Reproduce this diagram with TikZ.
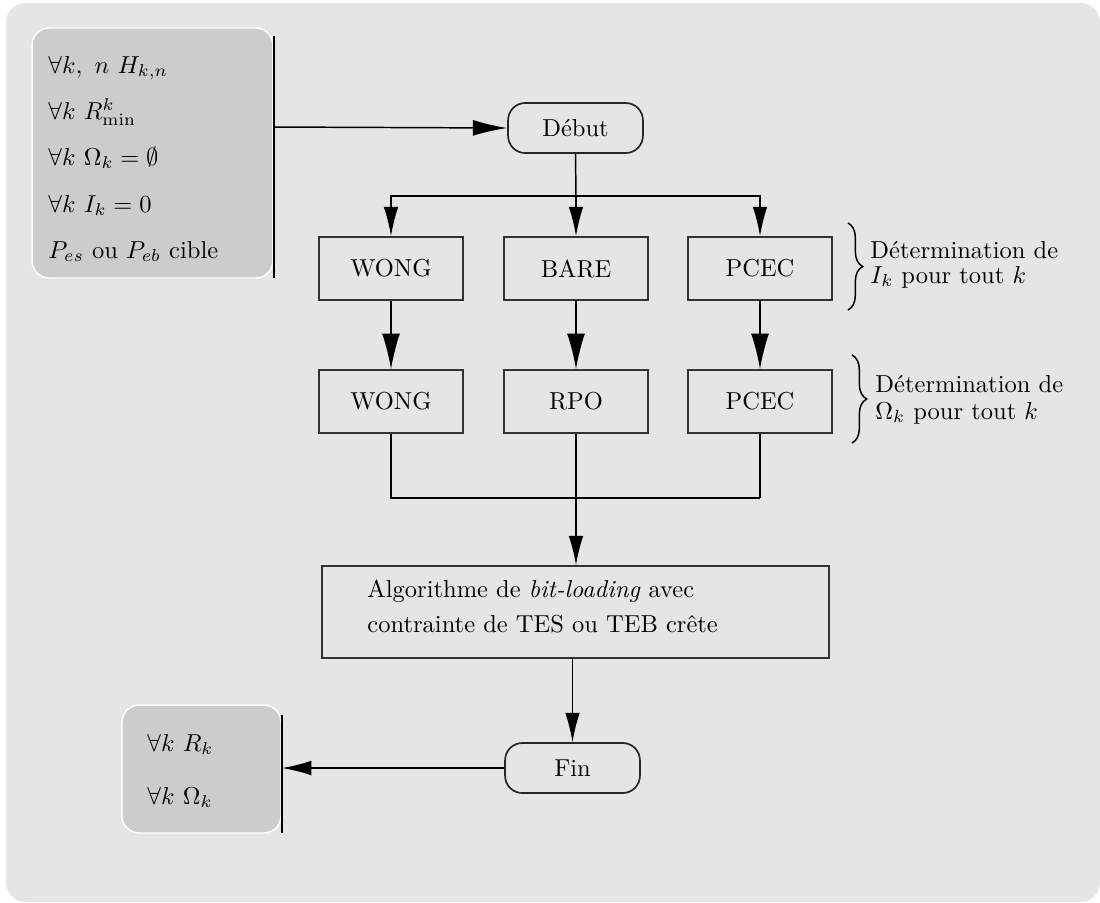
\documentclass[tikz,border=0pt]{standalone}
\usetikzlibrary{arrows.meta,decorations.pathreplacing}
\begin{document}
\begin{tikzpicture}[x=0.408pt,y=-0.408pt,
  box/.style={draw=black!80,line width=0.7pt,minimum width=58.8pt,minimum height=25.7pt,inner sep=0pt},
  term/.style={draw=black!85,line width=0.7pt,rounded corners=7pt,minimum width=55pt,minimum height=20.4pt,inner sep=0pt},
  panel/.style={fill=black!20,draw=white,line width=0.6pt,rounded corners=7pt,inner sep=0pt},
  conn/.style={line width=0.6pt},
  arr/.style={conn,-{Latex[length=12pt,width=6pt]}},
  bigarr/.style={conn,-{Latex[length=14.5pt,width=7.3pt]}},
  txt/.style={anchor=base west,inner sep=0pt},
  brc/.style={decorate,decoration={brace,amplitude=6pt},line width=0.6pt}]
\useasboundingbox (0,0) rectangle (1100,902);
\fill[white] (0,0) rectangle (1100,902);
\fill[black!10,rounded corners=8pt] (6,3) rectangle (1100,902);

% input panel
\node[panel,minimum width=98.3pt,minimum height=102pt] (in) at (152.5,153) {};
\draw[conn] (274,36) coordinate (inT) -- (274,278) coordinate (inB);
\coordinate (inO) at (274,127);
\node[txt] (i1) at (48,73) {$\forall k,\ n\ H_{k,n}$};
\node[txt] (i2) at (48,119) {$\forall k\ R_{\min}^{k}$};
\node[txt] (i3) at (48,165) {$\forall k\ \Omega_k=\emptyset$};
\node[txt] (i4) at (48,212) {$\forall k\ I_k=0$};
\node[txt] (i5) at (48,258) {$P_{es}$ ou $P_{eb}$ cible};

% start
\node[term] (debut) at (575.5,128) {Début};
\draw[conn,-{Latex[length=14pt,width=6.5pt]}] (inO) -- (debut.west);

% row 1
\node[box] (w1) at (391,268.5) {WONG};
\node[box] (b1) at (576,268.5) {BARE};
\node[box] (p1) at (760,268.5) {PCEC};
\coordinate (split) at (576,196);
\draw[conn] (debut.south) -- (split);
\draw[arr] (split) -| (w1.north);
\draw[arr] (split) -- (b1.north);
\draw[arr] (split) -| (p1.north);

% row 2
\node[box] (w2) at (391,401.5) {WONG};
\node[box] (r2) at (576,401.5) {RPO};
\node[box] (p2) at (760,401.5) {PCEC};
\draw[bigarr] (w1.south) -- (w2.north);
\draw[bigarr] (b1.south) -- (r2.north);
\draw[bigarr] (p1.south) -- (p2.north);

% braces
\draw[brc] (848,223) -- (848,310);
\node[txt] (d1a) at (870,258) {Détermination de};
\node[txt] (d1b) at (870,283) {$I_k$ pour tout $k$};
\draw[brc] (852,355) -- (852,443);
\node[txt] (d2a) at (875,392) {Détermination de};
\node[txt] (d2b) at (875,419) {$\Omega_k$ pour tout $k$};

% merge
\node[box,minimum width=206.9pt,minimum height=37.5pt] (algo) at (575.5,612) {};
\node[txt] (a1) at (367,597) {Algorithme de \textit{bit-loading} avec};
\node[txt] (a2) at (367,632) {contrainte de TES ou TEB crête};
\coordinate (mL) at (391,498);
\draw[conn] (w2.south) -- (mL) -- (p2.south |- mL);
\draw[conn] (p2.south) -- (p2.south |- mL);
\draw[arr] (r2.south) -- (r2.south |- algo.north);

% end
\node[term] (fin) at (572.5,768) {Fin\hspace{10.6pt}};
\draw[arr] (algo.south -| fin.north) -- (fin.north);

% output panel
\node[panel,minimum width=64.9pt,minimum height=52.2pt] (out) at (201.5,769) {};
\draw[conn] (282,715) coordinate (outT) -- (282,833) coordinate (outB);
\coordinate (outI) at (282,768);
\draw[arr] (fin.west) -- (outI);
\node[txt] (o1) at (147,751) {$\forall k\ R_k$};
\node[txt] (o2) at (147,804) {$\forall k\ \Omega_k$};
\end{tikzpicture}
\end{document}
